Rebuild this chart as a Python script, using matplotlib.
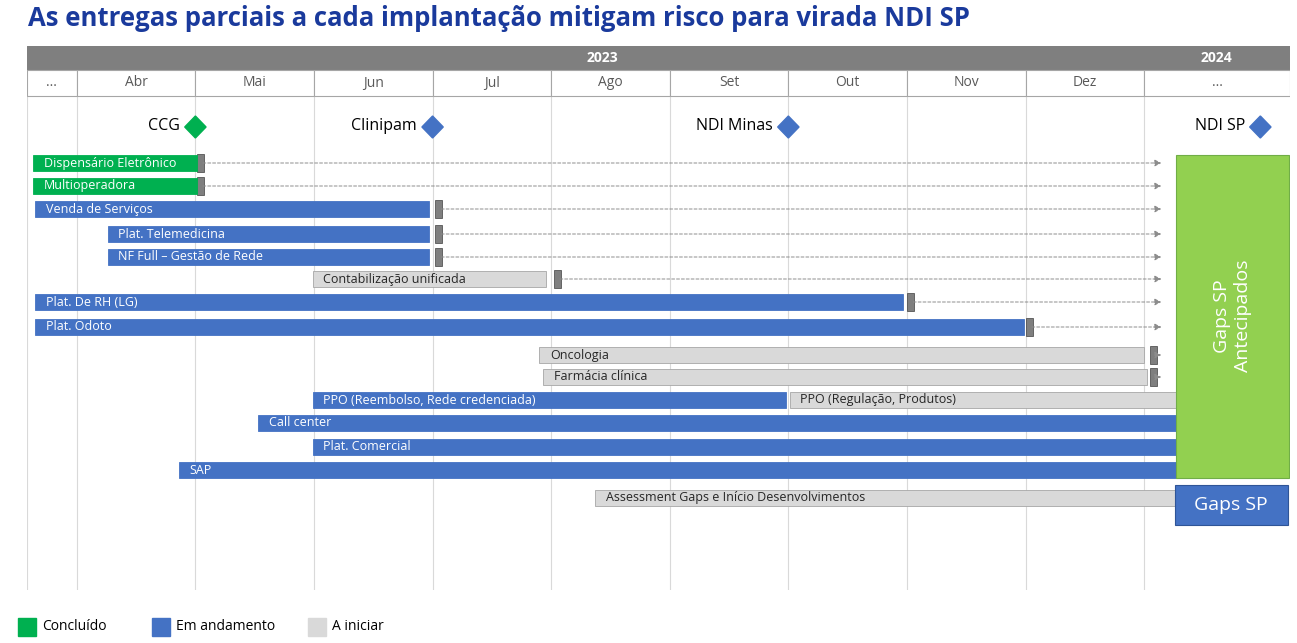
import matplotlib.pyplot as plt
from matplotlib.patches import Rectangle, Polygon

plt.rcParams['font.family'] = 'Open Sans'

# month units: 0 = start of Abr/2023
months = ['...', 'Abr', 'Mai', 'Jun', 'Jul', 'Ago', 'Set', 'Out', 'Nov', 'Dez', '...']
month_edges = [-0.42, 0, 1, 2, 3, 4, 5, 6, 7, 8, 9, 10.23]

tasks = ['Dispensário Eletrônico', 'Multioperadora', 'Venda de Serviços', 'Plat. Telemedicina',
         'NF Full – Gestão de Rede', 'Contabilização unificada', 'Plat. De RH (LG)', 'Plat. Odoto',
         'Oncologia', 'Farmácia clínica', 'PPO (Reembolso, Rede credenciada)',
         'PPO (Regulação, Produtos)', 'Call center', 'Plat. Comercial', 'SAP',
         'Assessment Gaps e Início Desenvolvimentos']
starts = [-0.37, -0.37, -0.35, 0.26, 0.26, 1.99, -0.35, -0.35, 3.90, 3.93, 1.99, 6.01, 1.53, 1.99, 0.86, 4.37]
ends = [1.01, 1.01, 2.97, 2.97, 2.97, 3.96, 6.97, 7.99, 9.00, 9.02, 5.98, 9.30, 9.30, 9.30, 9.30, 9.30]
rows = [163, 186, 209, 234, 257, 279, 302, 327, 355, 377, 400, 400, 423, 447, 470, 498]
status = ['c', 'c', 'a', 'a', 'a', 'i', 'a', 'a', 'i', 'i', 'a', 'i', 'a', 'a', 'a', 'i']

# delivery markers (end-of-task gates) with dashed arrow to Gaps SP
gate_x = [1.04, 1.04, 3.05, 3.05, 3.05, 4.05, 7.03, 8.03, 9.08, 9.08]
gate_rows = [163, 186, 209, 234, 257, 279, 302, 327, 355, 377]

milestones = ['CCG', 'Clinipam', 'NDI Minas', 'NDI SP']
milestone_x = [1.0, 3.0, 6.0, 9.98]
milestone_colors = ['#00B050', '#4472C4', '#4472C4', '#4472C4']

colors = {'c': '#00B050', 'a': '#4472C4', 'i': '#D9D9D9'}

fig = plt.figure(figsize=(12.97, 6.43), dpi=100)
ax = fig.add_axes([27/1297, 1-590/643, (1290-27)/1297, (590-46)/643])
ax.set_xlim(-0.42, 10.23)
ax.set_ylim(590, 46)
ax.axis('off')

fig.text(28/1297, 1-19/643, 'As entregas parciais a cada implantação mitigam risco para virada NDI SP',
         fontsize=18.5, fontweight='bold', color='#1A3A9C', va='center')

# header
ax.add_patch(Rectangle((-0.42, 46), 10.65, 24, color='#7F7F7F'))
ax.text(4.43, 58, '2023', color='white', fontweight='bold', ha='center', va='center', fontsize=10)
ax.text(9.61, 58, '2024', color='white', fontweight='bold', ha='center', va='center', fontsize=10)
for i, name in enumerate(months):
    x0, x1 = month_edges[i], month_edges[i+1]
    ax.add_patch(Rectangle((x0, 70), x1-x0, 26, facecolor='white', edgecolor='#A6A6A6', lw=0.8))
    ax.text((x0+x1)/2, 83, name, ha='center', va='center', fontsize=10, color='#595959')
    if i > 0:
        ax.plot([x0, x0], [96, 590], color='#D9D9D9', lw=0.8, zorder=0)
ax.plot([-0.42, -0.42], [96, 590], color='#D9D9D9', lw=0.8, zorder=0)

# milestones
for name, mx, c in zip(milestones, milestone_x, milestone_colors):
    d = 0.09
    ax.add_patch(Polygon([(mx-d, 127), (mx, 116), (mx+d, 127), (mx, 138)], color=c))
    ax.text(mx-0.13, 126, name, ha='right', va='center', fontsize=11.5, color='black')

# dashed arrows and gates
for gx, gy in zip(gate_x, gate_rows):
    ax.annotate('', xy=(9.17, gy), xytext=(gx, gy),
                arrowprops=dict(arrowstyle='-|>', color='#8C8C8C', ls=(0, (3, 2)), lw=0.7))
    ax.add_patch(Rectangle((gx-0.03, gy-9), 0.06, 18, facecolor='#7F7F7F', edgecolor='#404040', lw=0.5))

# bars
for t, s, e, y, st in zip(tasks, starts, ends, rows, status):
    edge = '#A6A6A6' if st == 'i' else colors[st]
    ax.add_patch(Rectangle((s, y-8), e-s, 16, facecolor=colors[st], edgecolor=edge, lw=0.6))
    ax.text(s+0.09, y, t, va='center', ha='left', fontsize=9,
            color='#262626' if st == 'i' else 'white')

# Gaps SP boxes
ax.add_patch(Rectangle((9.27, 155), 0.95, 323, facecolor='#92D050', edgecolor='#70AD47', lw=0.8))
ax.text(9.745, 316, 'Gaps SP\nAntecipados', rotation=90, ha='center', va='center',
        color='white', fontsize=14)
ax.add_patch(Rectangle((9.26, 485), 0.95, 40, facecolor='#4472C4', edgecolor='#2F5597', lw=0.8))
ax.text(9.735, 505, 'Gaps SP', ha='center', va='center', color='white', fontsize=14)

# legend
for lx, lc, ll in [(18, '#00B050', 'Concluído'), (152, '#4472C4', 'Em andamento'), (308, '#D9D9D9', 'A iniciar')]:
    fig.patches.append(Rectangle((lx/1297, 1-636/643), 18/1297, 18/643, color=lc, transform=fig.transFigure))
    fig.text((lx+24)/1297, 1-627/643, ll, fontsize=10, va='center')

fig.savefig('out.png', dpi=100)
